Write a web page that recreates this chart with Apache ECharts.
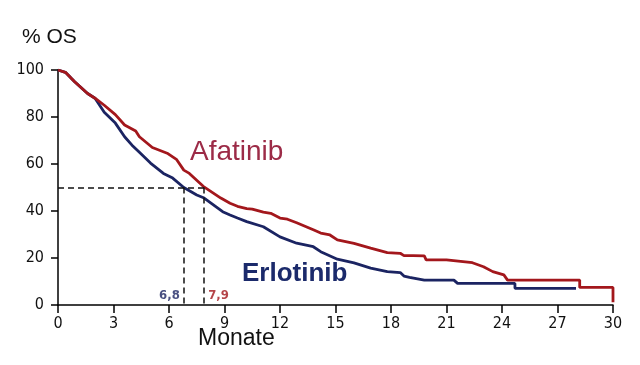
<!DOCTYPE html>
<html>
<head>
<meta charset="utf-8">
<script src="https://cdn.jsdelivr.net/npm/echarts@6/dist/echarts.min.js"></script>
<style>
html,body{margin:0;padding:0;background:#fff;}
#c{width:640px;height:365px;}
</style>
</head>
<body>
<div id="c"></div>
<script>
// Time (months) and survival (%)
var afatinibT = [0,0.4,0.9,1.6,2.0,2.5,3.1,3.6,4.2,4.4,5.1,5.9,6.4,6.8,7.1,7.85,8.8,9.3,9.7,10.2,10.5,11.1,11.5,12.0,12.4,12.9,13.8,14.2,14.7,15.1,16.0,16.9,17.8,18.5,18.7,19.2,19.8,19.9,21.0,21.1,22.4,23.0,23.5,24.1,24.3,28.2,28.2,30.0,30.0];
var afatinibS = [100,99,95,90,88,85,81,76.6,74,71.6,67,64.6,62,57.4,56,50.5,45.5,43.3,42,41,40.8,39.5,39,37,36.5,35,32,30.6,29.8,27.7,26.2,24.2,22.3,22,21,21,20.9,19.2,19.2,18.4,18,16.3,14.2,12.8,10.6,10.6,7.5,7.5,1.2];
var erlotinibT = [0,0.4,0.9,1.6,2.0,2.5,3.1,3.6,4.0,4.4,5.0,5.7,6.2,6.8,7.5,7.9,8.9,9.3,9.7,10.2,11.1,12.0,12.9,13.8,14.2,15.1,16.0,16.9,17.8,18.5,18.7,19.0,19.8,21.4,21.6,24.7,24.7,28.0];
var erlotinibS = [100,99,95,90,88,82,77.4,71.6,68,65,60.4,56,54,50,46.8,45.5,39.7,38.3,37,35.5,33.3,29,26.3,24.8,22.7,19.5,17.9,15.7,14.2,13.8,12.3,11.8,10.6,10.6,9.2,9.2,7.1,7.1];
var xTicks = [0,3,6,9,12,15,18,21,24,27,30];
var yTicks = [0,20,40,60,80,100];
var medianAfatinib = 7.9;
var medianErlotinib = 6.8;
var medianLevel = 50;

function pairs(t, s){ return t.map(function(v,i){ return [v, s[i]]; }); }

var RED = '#a3171c';
var BLUE = '#1b2462';
var tickFont = '"Liberation Sans Narrow","DejaVu Sans Condensed",sans-serif';

var chart = echarts.init(document.getElementById('c'), null, {renderer:'canvas'});
chart.setOption({
  animation: false,
  backgroundColor: '#ffffff',
  grid: {left: 58, right: 27, top: 70, bottom: 60},
  xAxis: {
    type: 'value', min: xTicks[0], max: xTicks[xTicks.length-1], interval: 3,
    axisLine: {lineStyle: {color: '#000', width: 1.5}},
    axisTick: {show: true, length: 8, lineStyle: {color: '#000', width: 1.5}},
    axisLabel: {color: '#111', fontSize: 16, fontFamily: tickFont, margin: 11},
    splitLine: {show: false}
  },
  yAxis: {
    type: 'value', min: yTicks[0], max: yTicks[yTicks.length-1], interval: 20,
    axisLine: {show: true, lineStyle: {color: '#000', width: 1.5}},
    axisTick: {show: true, length: 7, lineStyle: {color: '#000', width: 1.5}},
    axisLabel: {color: '#111', fontSize: 16, fontFamily: tickFont, margin: 14},
    splitLine: {show: false}
  },
  series: [
    {
      name: 'Erlotinib', type: 'line', data: pairs(erlotinibT, erlotinibS),
      showSymbol: false, symbol: 'none', z: 3,
      lineStyle: {color: BLUE, width: 2.8},
      markLine: {
        silent: true, symbol: 'none',
        lineStyle: {color: '#111', type: [6,4], width: 1.5},
        label: {show: false},
        data: [
          [{coord: [0, medianLevel]}, {coord: [medianAfatinib, medianLevel]}],
          [{coord: [medianErlotinib, medianLevel]}, {coord: [medianErlotinib, 0]}],
          [{coord: [medianAfatinib, medianLevel]}, {coord: [medianAfatinib, 0]}]
        ]
      }
    },
    {
      name: 'Afatinib', type: 'line', data: pairs(afatinibT, afatinibS),
      showSymbol: false, symbol: 'none', z: 4,
      lineStyle: {color: RED, width: 2.8}
    },
    {
      type: 'scatter', symbolSize: 0, silent: true,
      data: [[medianErlotinib, 4]],
      label: {show: true, position: 'left', distance: 4, formatter: '6,8',
        color: BLUE, fontWeight: 'bold', fontSize: 13, fontFamily: tickFont}
    },
    {
      type: 'scatter', symbolSize: 0, silent: true,
      data: [[medianAfatinib, 4]],
      label: {show: true, position: 'right', distance: 4, formatter: '7,9',
        color: RED, fontWeight: 'bold', fontSize: 13, fontFamily: tickFont}
    }
  ],
  graphic: [
    {type: 'text', left: 22, top: 27, style: {text: '% OS', fill: '#111', font: '21px "Liberation Sans", sans-serif'}},
    {type: 'text', left: 198, top: 327, style: {text: 'Monate', fill: '#111', font: '23px "Liberation Sans", sans-serif'}},
    {type: 'text', left: 190, top: 138, style: {text: 'Afatinib', fill: '#9c2b47', font: '28px "Liberation Sans", sans-serif'}},
    {type: 'text', left: 242, top: 261, style: {text: 'Erlotinib', fill: '#1b2a6b', font: 'bold 26px "Liberation Sans", sans-serif'}}
  ]
});
</script>
</body>
</html>
